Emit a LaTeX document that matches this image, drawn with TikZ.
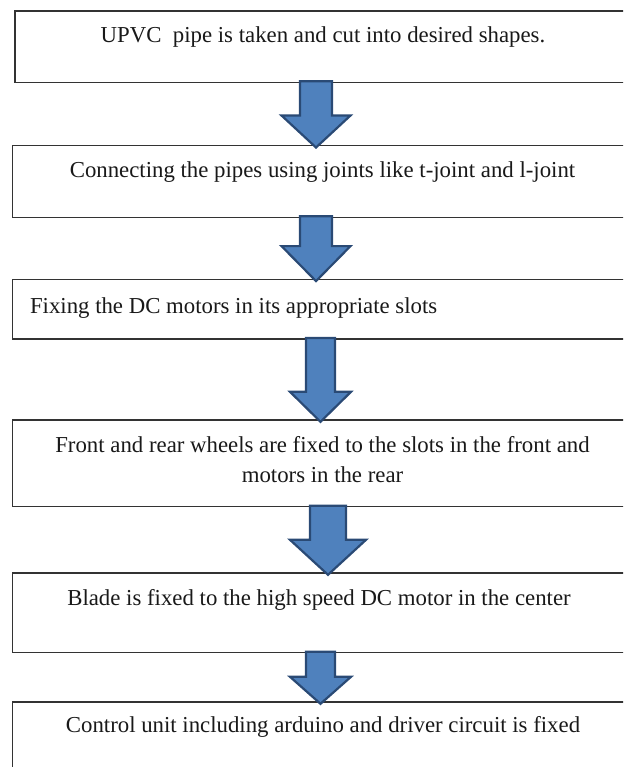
\documentclass[tikz,border=0pt]{standalone}
\usepackage{fontspec}
\setmainfont{Liberation Serif}
\usetikzlibrary{calc}
\definecolor{arrowfill}{HTML}{4F81BD}
\definecolor{arrowline}{HTML}{2A4A75}
\definecolor{boxline}{HTML}{333333}
\newcommand\blockarrow[6]{%
  \coordinate (atip) at ($({#3},0 |- #2.north)+(0,1.8)$);
  \draw[blk] ($({#3-#4},0 |- #1.south)+(0,-1)$)
    -- ($({#3-#4},0 |- atip)+(0,-#6)$)
    -- ($({#3-#5},0 |- atip)+(0,-#6)$)
    -- (atip)
    -- ($({#3+#5},0 |- atip)+(0,-#6)$)
    -- ($({#3+#4},0 |- atip)+(0,-#6)$)
    -- ($({#3+#4},0 |- #1.south)+(0,-1)$) -- cycle;}
\begin{document}
\begin{tikzpicture}[x=1pt,y=-1pt,
  stepbox/.style={draw=boxline,line width=1.5pt,fill=white,rectangle,inner sep=0pt,outer sep=0pt,minimum width=621.3pt},
  txt/.style={font=\fontsize{22.8}{30.5}\selectfont,inner sep=0pt,outer sep=0pt,text=black!90},
  blk/.style={fill=arrowfill,draw=arrowline,line width=2.2pt,line join=miter}]
\path[use as bounding box] (0,0) rectangle (623,767);
\clip (0,0) rectangle (623,767);
% boxes
\node[stepbox,minimum width=619pt,minimum height=71.3pt] (b1) at (324.5,46.65) {};
\node[stepbox,minimum height=71.6pt] (b2) at (323.35,181.5) {};
\node[stepbox,minimum height=59.7pt] (b3) at (323.35,309.15) {};
\node[stepbox,minimum height=86.7pt] (b4) at (323.35,463.35) {};
\node[stepbox,minimum height=79.7pt] (b5) at (323.35,612.85) {};
\node[stepbox,minimum height=88pt] (b6) at (323.35,746) {};
% texts
\node[txt,anchor=base] (t1) at (323,43) {UPVC\ \ pipe is taken and cut into desired shapes.};
\node[txt,anchor=base] (t2) at (322.5,178) {Connecting the pipes using joints like t-joint and l-joint};
\node[txt,anchor=base west] (t3) at (30,313) {Fixing the DC motors in its appropriate slots};
\node[txt,anchor=base] (t4a) at (322.5,452) {Front and rear wheels are fixed to the slots in the front and};
\node[txt,anchor=base] (t4b) at (322.5,482) {motors in the rear};
\node[txt,anchor=base] (t5) at (319,605) {Blade is fixed to the high speed DC motor in the center};
\node[txt,anchor=base] (t6) at (323,732) {Control unit including arduino and driver circuit is fixed};
% arrows
\blockarrow{b1}{b2}{316}{16}{34.5}{32}
\blockarrow{b2}{b3}{316}{16}{34.5}{35}
\blockarrow{b3}{b4}{320.5}{14.5}{30.5}{30}
\blockarrow{b4}{b5}{328}{18}{38}{35}
\blockarrow{b5}{b6}{320.5}{14.5}{30.5}{27}
\end{tikzpicture}
\end{document}
